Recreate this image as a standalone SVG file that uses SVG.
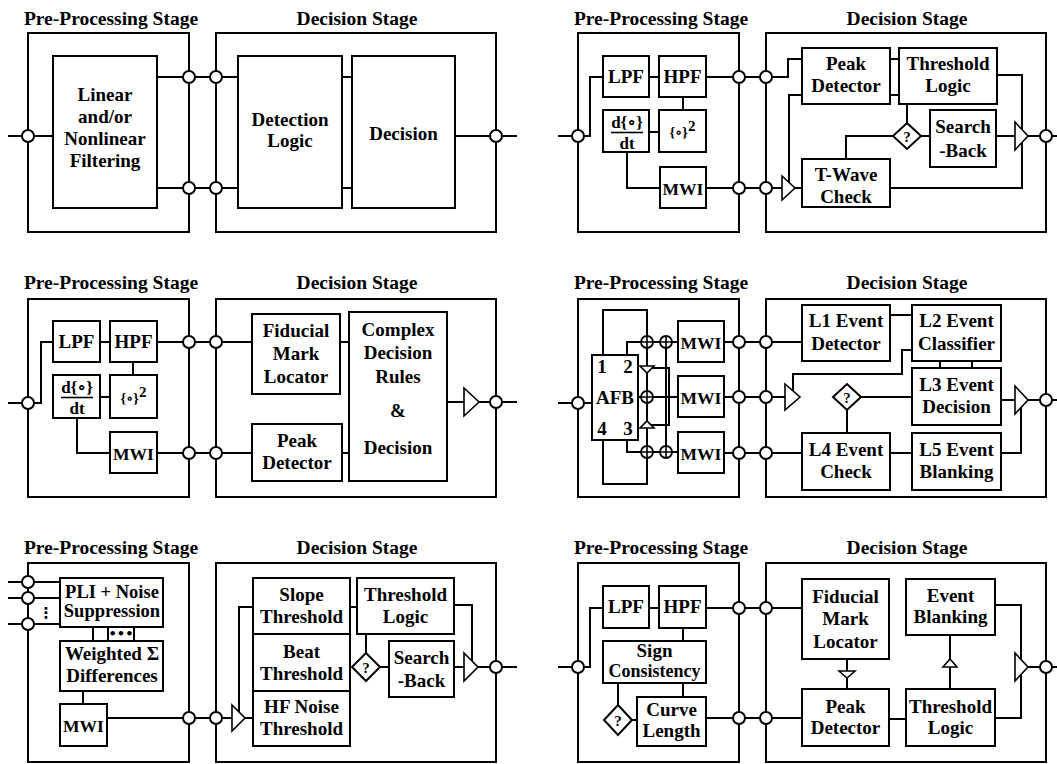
<svg xmlns="http://www.w3.org/2000/svg" width="1057" height="764" viewBox="0 0 1057 764">
<defs>
<style>
  .frame{fill:none;stroke:#000;stroke-width:2}
  .box{fill:#fff;stroke:#000;stroke-width:2}
  .wire{fill:none;stroke:#000;stroke-width:2}
  .port{fill:#fff;stroke:#000;stroke-width:2}
  .buf{fill:#fff;stroke:#000;stroke-width:1.6;stroke-linejoin:miter}
  .dia{fill:#fff;stroke:#000;stroke-width:2}
  .sum{fill:#fff;stroke:#000;stroke-width:1.8}
  .cross{fill:none;stroke:#000;stroke-width:1.6}
  text{font-family:"Liberation Serif","Times New Roman","DejaVu Serif",serif;font-weight:bold;font-size:19px;text-anchor:middle;fill:#000}
  .title{font-size:19.5px}
  .q{font-size:15px}
  .sm{font-size:17px}
  .mwi{font-size:17.5px}
</style>
</defs>
<rect width="1057" height="764" fill="#fff"/>

<!-- ============ Panel A: generic filter + detection/decision ============ -->
<g id="panel-a">
  <text class="title" x="111" y="25">Pre-Processing Stage</text>
  <text class="title" x="357" y="25">Decision Stage</text>
  <rect class="frame" x="28" y="33" width="161" height="199"/>
  <rect class="frame" x="216" y="33" width="280" height="199"/>
  <g id="a-connectors">
    <path class="wire" d="M8,136 H53"/>
    <path class="wire" d="M157,77 H238 M157,188 H238"/>
    <path class="wire" d="M342,77 H352 M342,188 H352"/>
    <path class="wire" d="M455,136 H517"/>
  </g>
  <g id="a-filtering">
    <rect class="box" x="53" y="56" width="104" height="152"/>
    <text x="105"><tspan x="105" y="100.7">Linear</tspan><tspan x="105" y="122.7">and/or</tspan><tspan x="105" y="144.7">Nonlinear</tspan><tspan x="105" y="166.7">Filtering</tspan></text>
  </g>
  <g id="a-detection">
    <rect class="box" x="238" y="56" width="104" height="152"/>
    <text><tspan x="290" y="126">Detection</tspan><tspan x="290" y="147">Logic</tspan></text>
  </g>
  <g id="a-decision">
    <rect class="box" x="352" y="56" width="103" height="152"/>
    <text x="403.5" y="140">Decision</text>
  </g>
  <g id="a-ports">
    <circle class="port" cx="28" cy="136" r="6"/>
    <circle class="port" cx="189" cy="77" r="6"/>
    <circle class="port" cx="189" cy="188" r="6"/>
    <circle class="port" cx="216" cy="77" r="6"/>
    <circle class="port" cx="216" cy="188" r="6"/>
    <circle class="port" cx="496" cy="136" r="6"/>
  </g>
</g>

<!-- ============ Panel B: LPF/HPF/derivative/MWI + peak, threshold, search-back ============ -->
<g id="panel-b">
  <text class="title" x="661" y="25">Pre-Processing Stage</text>
  <text class="title" x="907" y="25">Decision Stage</text>
  <rect class="frame" x="578" y="33" width="161" height="199"/>
  <rect class="frame" x="766" y="33" width="280" height="199"/>
  <g id="b-connectors">
    <path class="wire" d="M558,136 H590 V77 H603"/>
    <path class="wire" d="M649,77 H659"/>
    <path class="wire" d="M706,77 H788 V59 H802"/>
    <path class="wire" d="M683,97 V110"/>
    <path class="wire" d="M649,132 H659"/>
    <path class="wire" d="M627,152 V188 H782"/>
    <path class="wire" d="M890,59 H899 M890,95 H899"/>
    <path class="wire" d="M802,95 H789 V188"/>
    <path class="wire" d="M795,188 H802"/>
    <path class="wire" d="M907,104 V123"/>
    <path class="wire" d="M921,136 H930"/>
    <path class="wire" d="M846,159 V136 H893"/>
    <path class="wire" d="M996,136 H1015"/>
    <path class="wire" d="M1028,136 H1057"/>
    <path class="wire" d="M997,75 H1022 V188 H890"/>
  </g>
  <g id="b-lpf">
    <rect class="box" x="603" y="56" width="46" height="41"/>
    <text x="626" y="83">LPF</text>
  </g>
  <g id="b-hpf">
    <rect class="box" x="659" y="56" width="47" height="41"/>
    <text x="682.5" y="83">HPF</text>
  </g>
  <g id="b-deriv">
    <rect class="box" x="603" y="110" width="46" height="42"/>
    <text class="sm" x="627" y="128">d{∘}</text>
    <path class="wire" d="M611,132.5 H643" style="stroke-width:1.6"/>
    <text class="sm" x="627" y="149">dt</text>
  </g>
  <g id="b-square">
    <rect class="box" x="659" y="110" width="47" height="42"/>
    <text x="682.5" y="137"><tspan style="font-size:14px">{∘}</tspan><tspan style="font-size:15px" dy="-6">2</tspan></text>
  </g>
  <g id="b-mwi">
    <rect class="box" x="660" y="167" width="46" height="41"/>
    <text class="mwi" x="683" y="195">MWI</text>
  </g>
  <g id="b-peak">
    <rect class="box" x="802" y="48" width="88" height="56"/>
    <text><tspan x="846" y="70">Peak</tspan><tspan x="846" y="92">Detector</tspan></text>
  </g>
  <g id="b-threshold">
    <rect class="box" x="899" y="48" width="98" height="56"/>
    <text><tspan x="948" y="70">Threshold</tspan><tspan x="948" y="92">Logic</tspan></text>
  </g>
  <g id="b-searchback">
    <rect class="box" x="930" y="110" width="66" height="57"/>
    <text><tspan x="963" y="133">Search</tspan><tspan x="963" y="157">-Back</tspan></text>
  </g>
  <g id="b-twave">
    <rect class="box" x="802" y="159" width="88" height="48"/>
    <text><tspan x="846" y="181">T-Wave</tspan><tspan x="846" y="203">Check</tspan></text>
  </g>
  <g id="b-test">
    <polygon class="dia" points="907,123 921,136 907,149 893,136"/>
    <text class="q" x="907" y="141.5">?</text>
  </g>
  <g id="b-buffers">
    <polygon class="buf" points="782,176 795,188 782,200"/>
    <polygon class="buf" points="1015,122 1028,136 1015,150"/>
  </g>
  <g id="b-ports">
    <circle class="port" cx="578" cy="136" r="6"/>
    <circle class="port" cx="739" cy="77" r="6"/>
    <circle class="port" cx="739" cy="188" r="6"/>
    <circle class="port" cx="766" cy="77" r="6"/>
    <circle class="port" cx="766" cy="188" r="6"/>
    <circle class="port" cx="1046" cy="136" r="6"/>
  </g>
</g>

<!-- ============ Panel C: filters + fiducial mark / complex decision rules ============ -->
<g id="panel-c">
  <text class="title" x="111" y="289">Pre-Processing Stage</text>
  <text class="title" x="357" y="289">Decision Stage</text>
  <rect class="frame" x="28" y="299" width="161" height="198"/>
  <rect class="frame" x="216" y="299" width="280" height="198"/>
  <g id="c-connectors">
    <path class="wire" d="M8,403 H41 V342 H53"/>
    <path class="wire" d="M100,342 H110"/>
    <path class="wire" d="M157,342 H252"/>
    <path class="wire" d="M133,362 V375"/>
    <path class="wire" d="M100,397 H110"/>
    <path class="wire" d="M77,418 V453 H110"/>
    <path class="wire" d="M157,453 H252"/>
    <path class="wire" d="M340,342 H349 M342,453 H349"/>
    <path class="wire" d="M447,402 H464"/>
    <path class="wire" d="M479,402 H517"/>
  </g>
  <g id="c-lpf">
    <rect class="box" x="53" y="321" width="47" height="41"/>
    <text x="76.5" y="348">LPF</text>
  </g>
  <g id="c-hpf">
    <rect class="box" x="110" y="321" width="47" height="41"/>
    <text x="133.5" y="348">HPF</text>
  </g>
  <g id="c-deriv">
    <rect class="box" x="53" y="375" width="47" height="43"/>
    <text class="sm" x="77" y="393">d{∘}</text>
    <path class="wire" d="M61,397.5 H93" style="stroke-width:1.6"/>
    <text class="sm" x="77" y="414">dt</text>
  </g>
  <g id="c-square">
    <rect class="box" x="110" y="375" width="47" height="43"/>
    <text x="133.5" y="403"><tspan style="font-size:14px">{∘}</tspan><tspan style="font-size:15px" dy="-6">2</tspan></text>
  </g>
  <g id="c-mwi">
    <rect class="box" x="110" y="432" width="47" height="41"/>
    <text class="mwi" x="133.5" y="460">MWI</text>
  </g>
  <g id="c-fiducial">
    <rect class="box" x="252" y="314" width="88" height="80"/>
    <text><tspan x="296" y="337">Fiducial</tspan><tspan x="296" y="360">Mark</tspan><tspan x="296" y="383">Locator</tspan></text>
  </g>
  <g id="c-peak">
    <rect class="box" x="252" y="424" width="90" height="57"/>
    <text><tspan x="297" y="447">Peak</tspan><tspan x="297" y="469">Detector</tspan></text>
  </g>
  <g id="c-rules">
    <rect class="box" x="349" y="312" width="98" height="169"/>
    <text><tspan x="398" y="336">Complex</tspan><tspan x="398" y="359">Decision</tspan><tspan x="398" y="383">Rules</tspan><tspan x="398" y="417">&amp;</tspan><tspan x="398" y="454">Decision</tspan></text>
  </g>
  <g id="c-buffer">
    <polygon class="buf" points="464,388 479,402 464,416"/>
  </g>
  <g id="c-ports">
    <circle class="port" cx="28" cy="403" r="6"/>
    <circle class="port" cx="189" cy="342" r="6"/>
    <circle class="port" cx="189" cy="453" r="6"/>
    <circle class="port" cx="216" cy="342" r="6"/>
    <circle class="port" cx="216" cy="453" r="6"/>
    <circle class="port" cx="496" cy="402" r="6"/>
  </g>
</g>

<!-- ============ Panel D: AFB filter bank + five-level event logic ============ -->
<g id="panel-d">
  <text class="title" x="661" y="289">Pre-Processing Stage</text>
  <text class="title" x="907" y="289">Decision Stage</text>
  <rect class="frame" x="578" y="299" width="161" height="198"/>
  <rect class="frame" x="766" y="299" width="280" height="198"/>
  <g id="d-connectors">
    <path class="wire" d="M558,403 H592"/>
    <path class="wire" d="M603,355 V310 H647 V342"/>
    <path class="wire" d="M627,355 V342 H678"/>
    <path class="wire" d="M724,342 H802"/>
    <path class="wire" d="M638,397 H678"/>
    <path class="wire" d="M724,397 H785"/>
    <path class="wire" d="M603,440 V484 H647 V452"/>
    <path class="wire" d="M627,440 V452 H678"/>
    <path class="wire" d="M724,453 H802"/>
    <path class="wire" d="M647,342 V452"/>
    <path class="wire" d="M666,342 V452"/>
    <path class="wire" d="M647,368 H669 V425 H647"/>
    <path class="wire" d="M890,315 H912"/>
    <path class="wire" d="M940,361 V368 M972,361 V368"/>
    <path class="wire" d="M912,350 H902 V374 H793 V397"/>
    <path class="wire" d="M861,397 H912"/>
    <path class="wire" d="M847,410 V433"/>
    <path class="wire" d="M890,453 H912"/>
    <path class="wire" d="M1001,400 H1015"/>
    <path class="wire" d="M1028,400 H1057"/>
    <path class="wire" d="M1001,453 H1021 V400"/>
  </g>
  <g id="d-afb">
    <rect class="box" x="592" y="355" width="46" height="85"/>
    <text x="602" y="373">1</text>
    <text x="628" y="373">2</text>
    <text x="615" y="404">AFB</text>
    <text x="602" y="435">4</text>
    <text x="628" y="435">3</text>
  </g>
  <g id="d-sums">
    <circle class="sum" cx="647" cy="342" r="6"/>
    <circle class="sum" cx="666" cy="342" r="6"/>
    <circle class="sum" cx="647" cy="397" r="6"/>
    <circle class="sum" cx="647" cy="452" r="6"/>
    <circle class="sum" cx="666" cy="452" r="6"/>
    <path class="cross" d="M641,342 H653 M647,336 V348 M660,342 H672 M666,336 V348 M641,397 H653 M647,391 V403 M641,452 H653 M647,446 V458 M660,452 H672 M666,446 V458"/>
    <polygon class="buf" points="640,366 654,366 647,373"/>
    <polygon class="buf" points="640,428 654,428 647,421"/>
  </g>
  <g id="d-mwi1">
    <rect class="box" x="678" y="321" width="46" height="41"/>
    <text class="mwi" x="701" y="349">MWI</text>
  </g>
  <g id="d-mwi2">
    <rect class="box" x="678" y="376" width="46" height="41"/>
    <text class="mwi" x="701" y="404">MWI</text>
  </g>
  <g id="d-mwi3">
    <rect class="box" x="678" y="432" width="46" height="41"/>
    <text class="mwi" x="701" y="460">MWI</text>
  </g>
  <g id="d-l1">
    <rect class="box" x="802" y="305" width="88" height="56"/>
    <text><tspan x="846" y="327">L1 Event</tspan><tspan x="846" y="350">Detector</tspan></text>
  </g>
  <g id="d-l2">
    <rect class="box" x="912" y="305" width="89" height="56"/>
    <text><tspan x="956.5" y="327">L2 Event</tspan><tspan x="956.5" y="350">Classifier</tspan></text>
  </g>
  <g id="d-l3">
    <rect class="box" x="912" y="368" width="89" height="57"/>
    <text><tspan x="956.5" y="391">L3 Event</tspan><tspan x="956.5" y="413">Decision</tspan></text>
  </g>
  <g id="d-l4">
    <rect class="box" x="802" y="433" width="88" height="57"/>
    <text><tspan x="846" y="456">L4 Event</tspan><tspan x="846" y="478">Check</tspan></text>
  </g>
  <g id="d-l5">
    <rect class="box" x="912" y="433" width="89" height="57"/>
    <text><tspan x="956.5" y="456">L5 Event</tspan><tspan x="956.5" y="478">Blanking</tspan></text>
  </g>
  <g id="d-test">
    <polygon class="dia" points="847,384 861,397 847,410 833,397"/>
    <text class="q" x="847" y="402.5">?</text>
  </g>
  <g id="d-buffers">
    <polygon class="buf" points="785,384 800,397 785,410"/>
    <polygon class="buf" points="1015,386 1028,400 1015,414"/>
  </g>
  <g id="d-ports">
    <circle class="port" cx="578" cy="403" r="6"/>
    <circle class="port" cx="739" cy="342" r="6"/>
    <circle class="port" cx="739" cy="397" r="6"/>
    <circle class="port" cx="739" cy="453" r="6"/>
    <circle class="port" cx="766" cy="342" r="6"/>
    <circle class="port" cx="766" cy="397" r="6"/>
    <circle class="port" cx="766" cy="453" r="6"/>
    <circle class="port" cx="1046" cy="400" r="6"/>
  </g>
</g>

<!-- ============ Panel E: multi-lead noise suppression + threshold bank ============ -->
<g id="panel-e">
  <text class="title" x="111" y="554">Pre-Processing Stage</text>
  <text class="title" x="357" y="554">Decision Stage</text>
  <rect class="frame" x="28" y="563" width="161" height="199"/>
  <rect class="frame" x="216" y="563" width="280" height="199"/>
  <g id="e-connectors">
    <path class="wire" d="M8,582 H60 M8,598 H60 M8,624 H60"/>
    <path class="wire" d="M93,627 V641"/>
    <path class="wire" d="M83,691 V704"/>
    <path class="wire" d="M107,718 H232"/>
    <path class="wire" d="M239,718 V607 H253"/>
    <path class="wire" d="M245,718 H253"/>
    <path class="wire" d="M350,607 H357"/>
    <path class="wire" d="M366,634 V653"/>
    <path class="wire" d="M380,667 H389"/>
    <path class="wire" d="M454,667 H464"/>
    <path class="wire" d="M478,667 H517"/>
    <path class="wire" d="M454,605 H472 V667"/>
  </g>
  <g id="e-leads">
    <text x="46" y="618" style="font-family:'DejaVu Sans',sans-serif;font-size:15px">⋮</text>
  </g>
  <g id="e-pli">
    <rect class="box" x="60" y="578" width="103" height="49"/>
    <text style="font-size:18.5px"><tspan x="112" y="598">PLI + Noise</tspan><tspan x="112" y="617">Suppression</tspan></text>
  </g>
  <g id="e-channels">
    <rect class="box" x="108" y="627" width="26" height="14"/>
    <text x="121" y="638" style="font-family:'DejaVu Sans',sans-serif;font-size:13px">•••</text>
  </g>
  <g id="e-weighted">
    <rect class="box" x="60" y="641" width="103" height="50"/>
    <text><tspan x="112" y="660">Weighted Σ</tspan><tspan x="112" y="682">Differences</tspan></text>
  </g>
  <g id="e-mwi">
    <rect class="box" x="60" y="704" width="47" height="42"/>
    <text class="mwi" x="83.5" y="732">MWI</text>
  </g>
  <g id="e-slope">
    <rect class="box" x="253" y="578" width="97" height="56"/>
    <text><tspan x="301.5" y="601">Slope</tspan><tspan x="301.5" y="623">Threshold</tspan></text>
  </g>
  <g id="e-beat">
    <rect class="box" x="253" y="634" width="97" height="57"/>
    <text><tspan x="301.5" y="658">Beat</tspan><tspan x="301.5" y="680">Threshold</tspan></text>
  </g>
  <g id="e-hfnoise">
    <rect class="box" x="253" y="691" width="97" height="55"/>
    <text><tspan x="301.5" y="713">HF Noise</tspan><tspan x="301.5" y="735">Threshold</tspan></text>
  </g>
  <g id="e-threshold">
    <rect class="box" x="357" y="578" width="97" height="56"/>
    <text><tspan x="405.5" y="601">Threshold</tspan><tspan x="405.5" y="623">Logic</tspan></text>
  </g>
  <g id="e-searchback">
    <rect class="box" x="389" y="641" width="65" height="56"/>
    <text><tspan x="421.5" y="664">Search</tspan><tspan x="421.5" y="687">-Back</tspan></text>
  </g>
  <g id="e-test">
    <polygon class="dia" points="366,653 380,667 366,681 352,667"/>
    <text class="q" x="366" y="672.5">?</text>
  </g>
  <g id="e-buffers">
    <polygon class="buf" points="232,705 245,718 232,731"/>
    <polygon class="buf" points="464,653 478,667 464,681"/>
  </g>
  <g id="e-ports">
    <circle class="port" cx="28" cy="582" r="6"/>
    <circle class="port" cx="28" cy="598" r="6"/>
    <circle class="port" cx="28" cy="624" r="6"/>
    <circle class="port" cx="189" cy="718" r="6"/>
    <circle class="port" cx="216" cy="718" r="6"/>
    <circle class="port" cx="496" cy="667" r="6"/>
  </g>
</g>

<!-- ============ Panel F: sign consistency / curve length + blanking ============ -->
<g id="panel-f">
  <text class="title" x="661" y="554">Pre-Processing Stage</text>
  <text class="title" x="907" y="554">Decision Stage</text>
  <rect class="frame" x="578" y="563" width="161" height="199"/>
  <rect class="frame" x="766" y="563" width="280" height="199"/>
  <g id="f-connectors">
    <path class="wire" d="M558,667 H590 V608 H603"/>
    <path class="wire" d="M649,608 H659"/>
    <path class="wire" d="M706,608 H802"/>
    <path class="wire" d="M683,628 V641"/>
    <path class="wire" d="M683,683 V697"/>
    <path class="wire" d="M618,683 V705"/>
    <path class="wire" d="M632,720 H637"/>
    <path class="wire" d="M706,718 H802"/>
    <path class="wire" d="M847,659 V689"/>
    <path class="wire" d="M889,719 H906"/>
    <path class="wire" d="M950,689 V635"/>
    <path class="wire" d="M995,605 H1021 V667"/>
    <path class="wire" d="M995,718 H1021 V667"/>
    <path class="wire" d="M1028,667 H1057"/>
  </g>
  <g id="f-lpf">
    <rect class="box" x="603" y="586" width="46" height="42"/>
    <text x="626" y="613">LPF</text>
  </g>
  <g id="f-hpf">
    <rect class="box" x="659" y="586" width="47" height="42"/>
    <text x="682.5" y="613">HPF</text>
  </g>
  <g id="f-sign">
    <rect class="box" x="603" y="641" width="103" height="42"/>
    <text><tspan x="654.5" y="657">Sign</tspan><tspan x="654.5" y="677" style="font-size:18px">Consistency</tspan></text>
  </g>
  <g id="f-curve">
    <rect class="box" x="637" y="697" width="69" height="49"/>
    <text><tspan x="671.5" y="716">Curve</tspan><tspan x="671.5" y="737">Length</tspan></text>
  </g>
  <g id="f-test">
    <polygon class="dia" points="618,705 632,720 618,735 604,720"/>
    <text class="q" x="618" y="725.5">?</text>
  </g>
  <g id="f-fiducial">
    <rect class="box" x="802" y="579" width="87" height="80"/>
    <text><tspan x="845.5" y="602.5">Fiducial</tspan><tspan x="845.5" y="625">Mark</tspan><tspan x="845.5" y="648">Locator</tspan></text>
  </g>
  <g id="f-peak">
    <rect class="box" x="802" y="689" width="87" height="57"/>
    <text><tspan x="845.5" y="712.5">Peak</tspan><tspan x="845.5" y="734">Detector</tspan></text>
  </g>
  <g id="f-blanking">
    <rect class="box" x="906" y="579" width="89" height="56"/>
    <text><tspan x="950.5" y="601.5">Event</tspan><tspan x="950.5" y="623">Blanking</tspan></text>
  </g>
  <g id="f-threshold">
    <rect class="box" x="906" y="689" width="89" height="57"/>
    <text><tspan x="950.5" y="712.5">Threshold</tspan><tspan x="950.5" y="734">Logic</tspan></text>
  </g>
  <g id="f-buffers">
    <polygon class="buf" points="839,671 855,671 847,678"/>
    <polygon class="buf" points="943,667 957,667 950,659"/>
    <polygon class="buf" points="1015,653 1028,667 1015,681"/>
  </g>
  <g id="f-ports">
    <circle class="port" cx="578" cy="667" r="6"/>
    <circle class="port" cx="739" cy="608" r="6"/>
    <circle class="port" cx="739" cy="718" r="6"/>
    <circle class="port" cx="766" cy="608" r="6"/>
    <circle class="port" cx="766" cy="718" r="6"/>
    <circle class="port" cx="1046" cy="667" r="6"/>
  </g>
</g>
</svg>
